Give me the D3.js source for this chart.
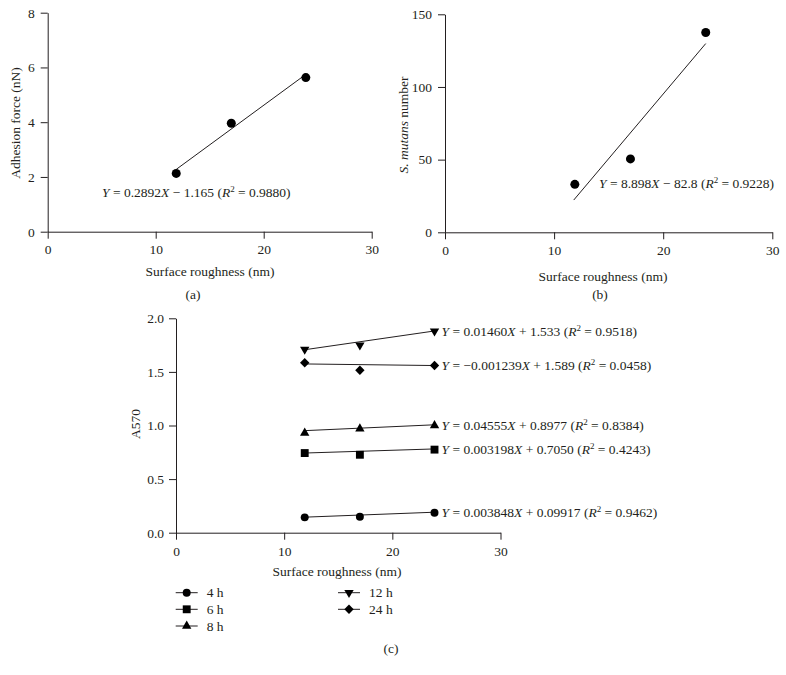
<!DOCTYPE html>
<html>
<head>
<meta charset="utf-8">
<script src="https://cdn.jsdelivr.net/npm/d3@7"></script>
<style>
  body { margin: 0; background: #fff; }
  svg text { font-family: "Liberation Serif", "DejaVu Serif", serif; fill: #231f20; }
</style>
</head>
<body>
<div id="chart"></div>
<script>
// surface roughness of the three samples (nm)
const roughness = [11.9, 17.0, 23.9];

// (a) adhesion force
const adhesionForce = [2.13, 3.96, 5.63];
const adhesionFit = { slope: 0.2892, intercept: -1.165 };

// (b) S. mutans number
const mutansNumber = [33, 50.5, 137.5];
const mutansFit = { slope: 8.898, intercept: -82.8 };

// (c) A570 at each incubation time
const timeLabels = ["4 h", "6 h", "8 h", "12 h", "24 h"];
const a570_4h = [0.143, 0.149, 0.186];
const a570_6h = [0.743, 0.727, 0.775];
const a570_8h = [0.93, 0.97, 1.0];
const a570_12h = [1.71, 1.75, 1.88];
const a570_24h = [1.585, 1.515, 1.56];
const fitSlopes = [0.003848, 0.003198, 0.004555, 0.01460, -0.001239];
const fitIntercepts = [0.09917, 0.7050, 0.8977, 1.533, 1.589];
const fitTexts = [
  ["0.003848", "+ 0.09917", "0.9462"],
  ["0.003198", "+ 0.7050", "0.4243"],
  ["0.04555", "+ 0.8977", "0.8384"],
  ["0.01460", "+ 1.533", "0.9518"],
  ["\u22120.001239", "+ 1.589", "0.0458"]
];

const xTicks = [0, 10, 20, 30];
const FS = "13.5px";

const svg = d3.select("#chart").append("svg")
  .attr("width", 786)
  .attr("height", 675);

function styleAxis(g) {
  g.selectAll("path, line").attr("stroke", "#231f20").attr("stroke-width", 1);
  g.selectAll("text").style("font-size", FS).attr("fill", "#231f20")
    .style("font-family", "'Liberation Serif', serif");
}

// equation label: Y = aX + b (R2 = r)
function equation(g, x, y, slope, inter, r2) {
  const t = g.append("text").attr("x", x).attr("y", y).style("font-size", FS);
  t.append("tspan").style("font-style", "italic").text("Y");
  t.append("tspan").text(" = " + slope);
  t.append("tspan").style("font-style", "italic").text("X");
  t.append("tspan").text(" " + inter + " (");
  t.append("tspan").style("font-style", "italic").text("R");
  t.append("tspan").attr("dy", -5).style("font-size", "9px").text("2");
  t.append("tspan").attr("dy", 5).text(" = " + r2 + ")");
  return t;
}

function scatterPanel(opt) {
  const x = d3.scaleLinear().domain([0, 30]).range(opt.xr);
  const y = d3.scaleLinear().domain(opt.yd).range(opt.yr);
  const g = svg.append("g");

  g.append("g").attr("transform", `translate(0,${opt.yr[0]})`)
    .call(d3.axisBottom(x).tickValues(xTicks).tickSize(7).tickSizeOuter(0).tickPadding(6))
    .call(styleAxis);
  g.append("g").attr("transform", `translate(${opt.xr[0]},0)`)
    .call(d3.axisLeft(y).tickValues(opt.yTicks).tickSize(7).tickSizeOuter(0).tickPadding(6))
    .call(styleAxis);

  const x0 = opt.lineFrom, x1 = d3.max(roughness);
  g.append("line")
    .attr("x1", x(x0)).attr("y1", y(opt.fit.slope * x0 + opt.fit.intercept))
    .attr("x2", x(x1)).attr("y2", y(opt.fit.slope * x1 + opt.fit.intercept))
    .attr("stroke", "#231f20").attr("stroke-width", 1);

  g.selectAll("circle.pt").data(opt.values).join("circle")
    .attr("class", "pt")
    .attr("cx", (d, i) => x(roughness[i]))
    .attr("cy", d => y(d))
    .attr("r", 4.5)
    .attr("fill", "#000");

  return { g, x, y };
}

// ---- panel (a)
const pa = scatterPanel({
  xr: [47.7, 371.7], yd: [0, 8], yr: [231.7, 12.7], yTicks: [0, 2, 4, 6, 8],
  values: adhesionForce, fit: adhesionFit, lineFrom: 11.9
});
equation(pa.g, 102, 197, "0.2892", "\u2212 1.165", "0.9880");
pa.g.append("text").attr("transform", "translate(20,123) rotate(-90)")
  .attr("text-anchor", "middle").style("font-size", FS).text("Adhesion force (nN)");
pa.g.append("text").attr("x", 210).attr("y", 276).attr("text-anchor", "middle")
  .style("font-size", FS).text("Surface roughness (nm)");
pa.g.append("text").attr("x", 193).attr("y", 299).attr("text-anchor", "middle")
  .style("font-size", FS).text("(a)");

// ---- panel (b)
const pb = scatterPanel({
  xr: [445, 772.3], yd: [0, 150], yr: [232.3, 14.3], yTicks: [0, 50, 100, 150],
  values: mutansNumber, fit: mutansFit, lineFrom: 11.8
});
equation(pb.g, 599, 188, "8.898", "\u2212 82.8", "0.9228");
const yl = pb.g.append("text").attr("transform", "translate(408,125) rotate(-90)")
  .attr("text-anchor", "middle").style("font-size", FS);
yl.append("tspan").style("font-style", "italic").text("S. mutans");
yl.append("tspan").text(" number");
pb.g.append("text").attr("x", 603).attr("y", 281).attr("text-anchor", "middle")
  .style("font-size", FS).text("Surface roughness (nm)");
pb.g.append("text").attr("x", 600).attr("y", 299).attr("text-anchor", "middle")
  .style("font-size", FS).text("(b)");

// ---- panel (c)
const series = [a570_4h, a570_6h, a570_8h, a570_12h, a570_24h];
const symbols = [
  { type: d3.symbolCircle, size: 50, rot: 0 },
  { type: d3.symbolSquare, size: 62, rot: 0 },
  { type: d3.symbolTriangle, size: 38, rot: 0 },
  { type: d3.symbolTriangle, size: 38, rot: 180 },
  { type: d3.symbolSquare, size: 44, rot: 45 }
];

const xc = d3.scaleLinear().domain([0, 30]).range([176, 500.5]);
const yc = d3.scaleLinear().domain([0, 2]).range([532.7, 318.3]);
const gc = svg.append("g");

gc.append("g").attr("transform", `translate(0,${yc(0)})`)
  .call(d3.axisBottom(xc).tickValues(xTicks).tickSize(7).tickSizeOuter(0).tickPadding(7))
  .call(styleAxis);
gc.append("g").attr("transform", `translate(${xc(0)},0)`)
  .call(d3.axisLeft(yc).tickValues([0, 0.5, 1, 1.5, 2]).tickFormat(d3.format(".1f"))
    .tickSize(7).tickSizeOuter(0).tickPadding(5))
  .call(styleAxis);

function symbolPath(s) {
  return d3.symbol().type(s.type).size(s.size)();
}

series.forEach((vals, k) => {
  const s = symbols[k];
  const x0 = d3.min(roughness), x1 = d3.max(roughness);
  gc.append("line")
    .attr("x1", xc(x0)).attr("y1", yc(fitSlopes[k] * x0 + fitIntercepts[k]))
    .attr("x2", xc(x1)).attr("y2", yc(fitSlopes[k] * x1 + fitIntercepts[k]))
    .attr("stroke", "#231f20").attr("stroke-width", 1);
  gc.selectAll(null).data(vals).join("path")
    .attr("d", symbolPath(s))
    .attr("transform", (d, i) => `translate(${xc(roughness[i])},${yc(d)}) rotate(${s.rot})`)
    .attr("fill", "#000");
  const last = vals[vals.length - 1];
  equation(gc, xc(x1) + 7, yc(last) + 4.5, fitTexts[k][0], fitTexts[k][1], fitTexts[k][2]);
});

gc.append("text").attr("transform", "translate(140,424) rotate(-90)")
  .attr("text-anchor", "middle").style("font-size", FS).text("A570");
gc.append("text").attr("x", 337).attr("y", 576).attr("text-anchor", "middle")
  .style("font-size", FS).text("Surface roughness (nm)");
gc.append("text").attr("x", 391).attr("y", 653).attr("text-anchor", "middle")
  .style("font-size", FS).text("(c)");

// legend
const legendPos = [
  [175.7, 592.7], [175.7, 609.3], [175.7, 626],
  [338, 592.7], [338, 609.3]
];
timeLabels.forEach((lab, k) => {
  const [lx, ly] = legendPos[k];
  const lg = gc.append("g").attr("transform", `translate(${lx},${ly})`);
  lg.append("line").attr("x1", 0).attr("x2", 22).attr("y1", 0).attr("y2", 0)
    .attr("stroke", "#231f20").attr("stroke-width", 1);
  lg.append("path").attr("d", symbolPath(symbols[k]))
    .attr("transform", `translate(11,0) rotate(${symbols[k].rot})`).attr("fill", "#000");
  lg.append("text").attr("x", 31).attr("y", 4.5).style("font-size", FS).text(lab);
});
</script>
</body>
</html>
